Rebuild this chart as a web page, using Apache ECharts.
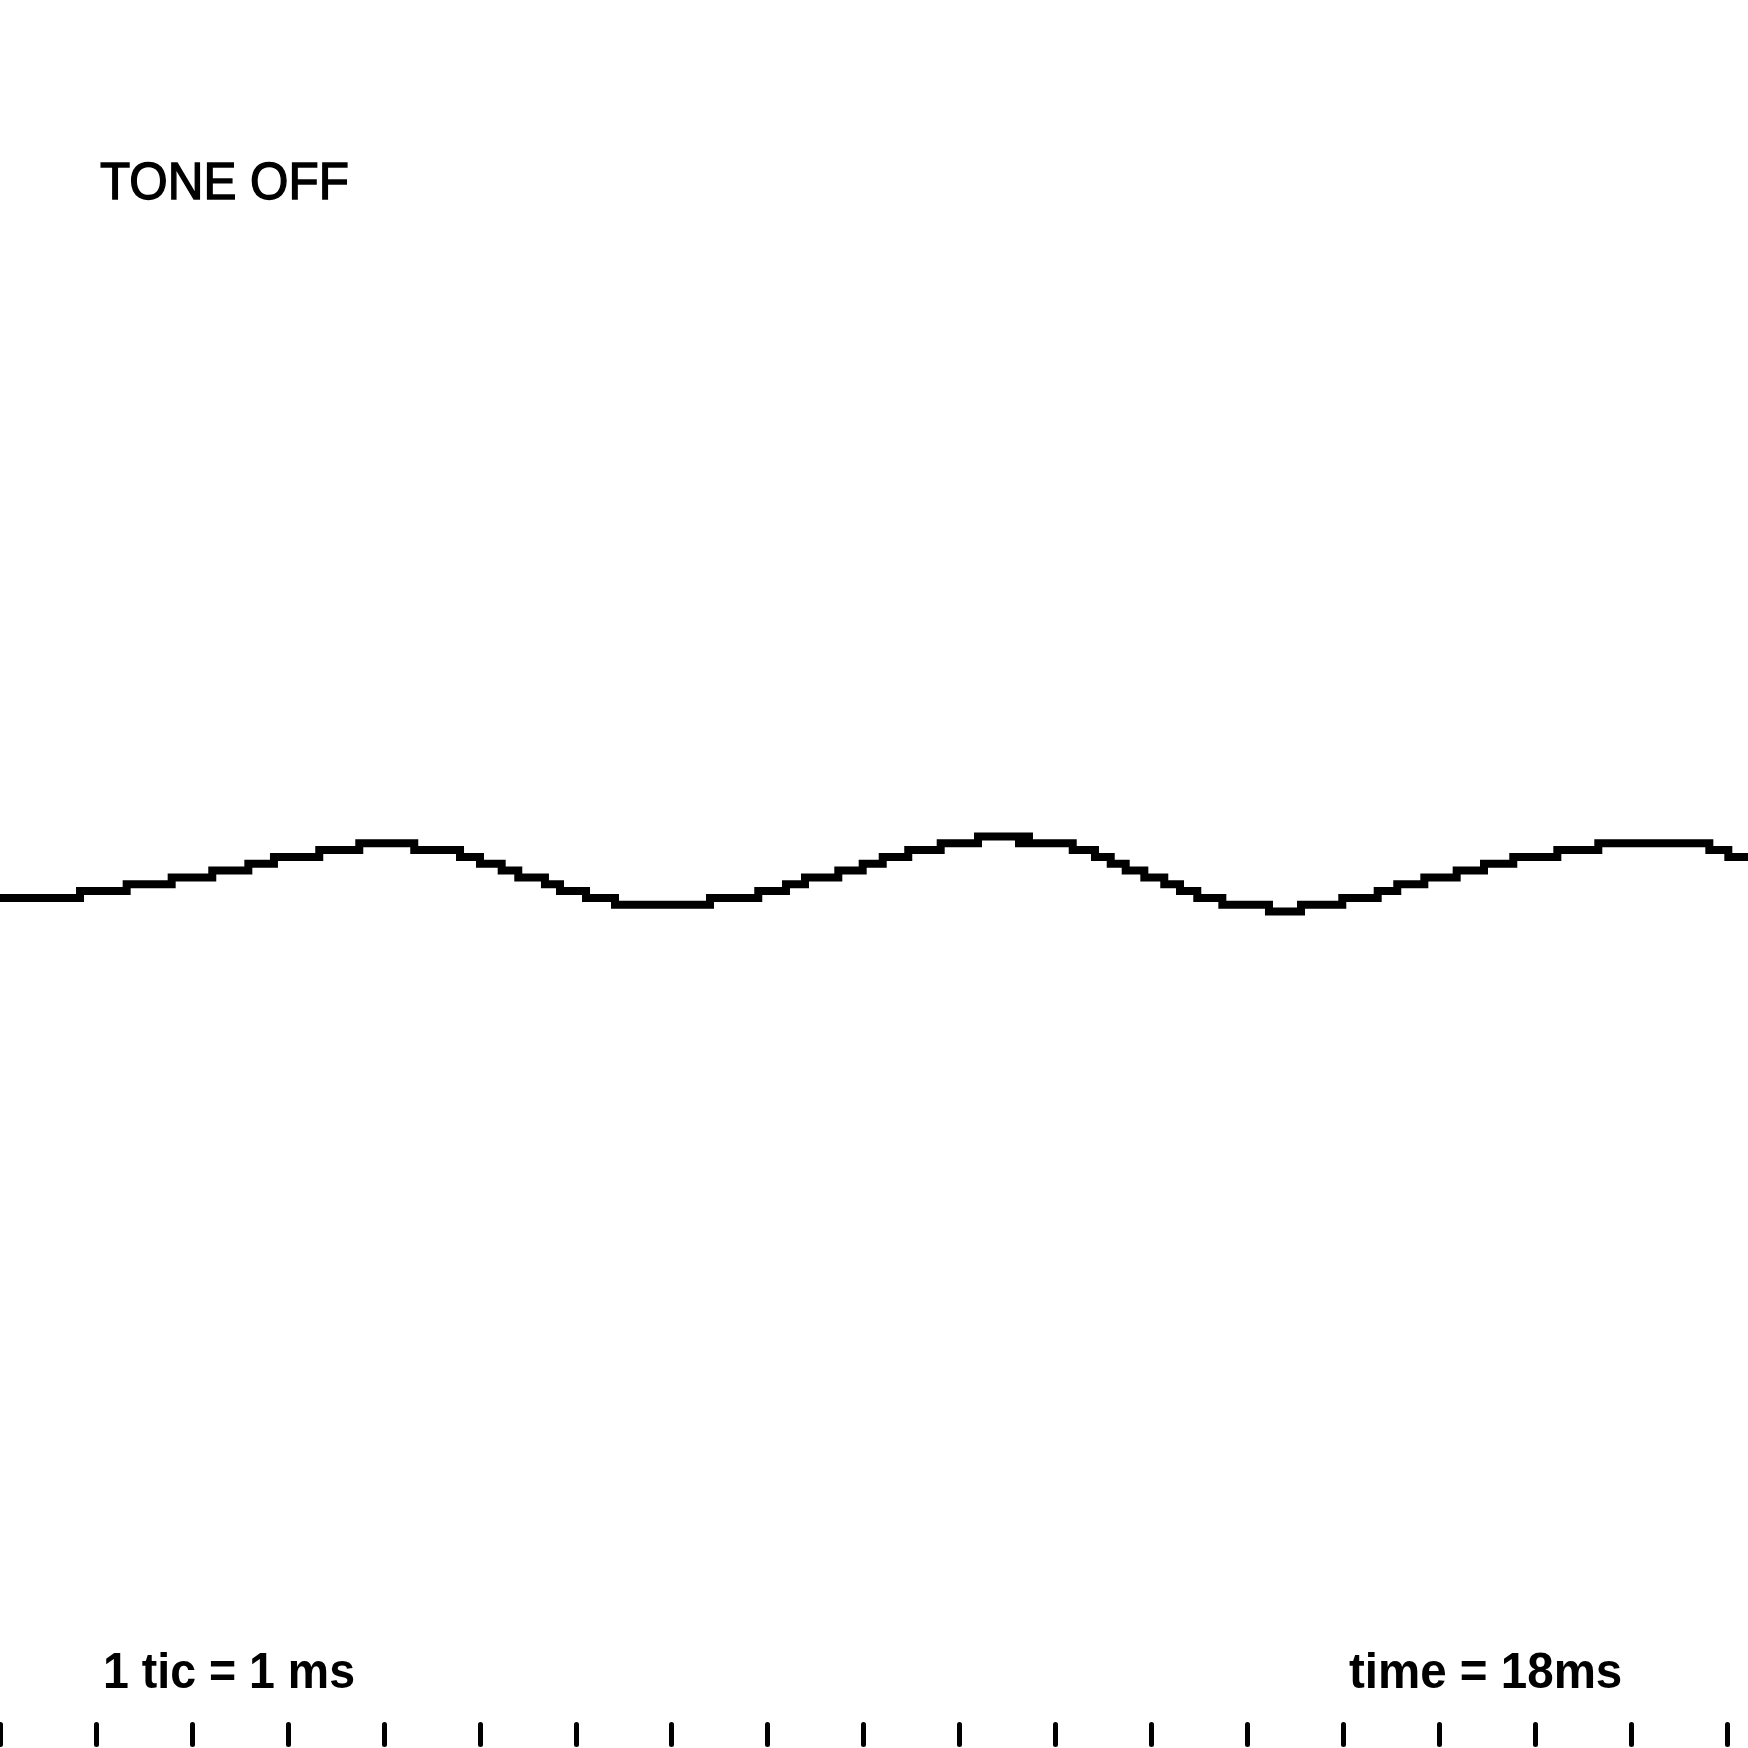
<!DOCTYPE html>
<html>
<head>
<meta charset="utf-8">
<script src="https://cdn.jsdelivr.net/npm/echarts@6/dist/echarts.min.js"></script>
<style>
	html, body { margin: 0; padding: 0; background: #fff; }
	#scope { width: 1748px; height: 1748px; }
</style>
</head>
<body>
<div id="scope"></div>
<script>
/* sample start times (ms) and held 8-bit sample values */
const times = [
	0.000, 0.834, 1.320, 1.789, 2.212, 2.588, 2.855, 3.327, 3.744, 4.317,
	4.794, 5.002, 5.228, 5.401, 5.679, 5.836, 6.107, 6.409, 7.399, 7.902,
	8.191, 8.389, 8.736, 8.990, 9.199, 9.465, 9.803, 10.192, 10.619, 10.671,
	10.723, 11.179, 11.411, 11.575, 11.731, 11.925, 12.133, 12.297, 12.477, 12.738,
	13.224, 13.558, 13.988, 14.357, 14.561, 14.843, 15.180, 15.465, 15.770, 16.229,
	16.656, 17.813, 18.011, 18.216
];
const samples = [
	124, 125, 126, 127, 128, 129, 130, 131, 132, 131,
	130, 129, 128, 127, 126, 125, 124, 123, 124, 125,
	126, 127, 128, 129, 130, 131, 132, 133, 132, 133,
	132, 131, 130, 129, 128, 127, 126, 125, 124, 123,
	122, 123, 124, 125, 126, 127, 128, 129, 130, 131,
	132, 131, 130, 130
];
/* one tic per ms */
const tics = [0, 1, 2, 3, 4, 5, 6, 7, 8, 9, 10, 11, 12, 13, 14, 15, 16, 17, 18];

const chart = echarts.init(document.getElementById('scope'), null, { renderer: 'canvas' });

const points = times.map((t, i) => [t, samples[i]]);

chart.setOption({
	animation: false,
	backgroundColor: '#ffffff',
	grid: {
		left: 0,
		right: 0,
		top: 0,
		bottom: 0
	},
	xAxis: {
		type: 'value',
		min: 0,
		max: 18.216,
		axisLine: { show: false },
		splitLine: { show: false },
		axisLabel: { show: false },
		axisTick: {
			show: true,
			inside: true,
			length: 20,
			customValues: tics,
			lineStyle: {
				color: '#000',
				width: 5,
				cap: 'round'
			}
		}
	},
	yAxis: {
		type: 'value',
		min: -0.5,
		max: 255.5,
		show: false
	},
	series: [
		{
			type: 'line',
			step: 'end',
			showSymbol: false,
			symbol: 'none',
			lineStyle: {
				color: '#000',
				width: 8,
				join: 'miter'
			},
			data: points
		}
	],
	graphic: [
		{
			type: 'text',
			x: 100,
			y: 185,
			scaleX: 0.95,
			style: {
				text: 'TONE OFF',
				font: 'normal 52px "Liberation Sans", Arial, sans-serif',
				fill: '#000',
				stroke: '#000',
				lineWidth: 1.4,
				align: 'left',
				verticalAlign: 'middle'
			}
		},
		{
			type: 'text',
			x: 103,
			y: 1674,
			scaleX: 0.93,
			style: {
				text: '1 tic = 1 ms',
				font: 'bold 50px "Liberation Sans", Arial, sans-serif',
				fill: '#000',
				align: 'left',
				verticalAlign: 'middle'
			}
		},
		{
			type: 'text',
			x: 1349,
			y: 1674,
			scaleX: 0.95,
			style: {
				text: 'time = 18ms',
				font: 'bold 50px "Liberation Sans", Arial, sans-serif',
				fill: '#000',
				align: 'left',
				verticalAlign: 'middle'
			}
		}
	]
});
</script>
</body>
</html>
